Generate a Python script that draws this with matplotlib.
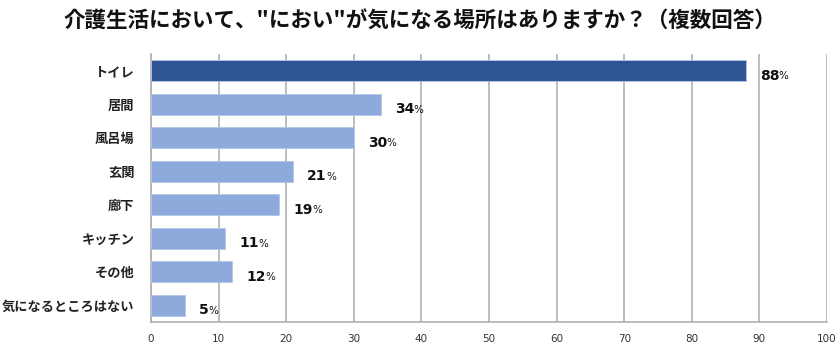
import matplotlib
matplotlib.use("Agg")
import matplotlib.pyplot as plt

plt.rcParams['font.family'] = ['Noto Sans CJK JP', 'DejaVu Sans']

# survey data: where odours are noticed in home care
places = ["トイレ", "居間", "風呂場", "玄関", "廊下", "キッチン", "その他", "気になるところはない"]
percent = [88, 34, 30, 21, 19, 11, 12, 5]
bar_colors = ["#2F5597", "#8EA9DB", "#8EA9DB", "#8EA9DB", "#8EA9DB", "#8EA9DB", "#8EA9DB", "#8EA9DB"]
x_ticks = [0, 10, 20, 30, 40, 50, 60, 70, 80, 90, 100]
title = '介護生活において、"におい"が気になる場所はありますか？（複数回答）'

fig = plt.figure(figsize=(8.4, 3.46), dpi=100)
ax = fig.add_axes([0.1798, 0.0694, 0.8047, 0.7745])

ypos = list(range(len(places)))
ax.barh(ypos, percent, height=0.62, color=bar_colors, edgecolor="#B4C7E7", linewidth=0.6, zorder=3)

ax.set_xlim(0, 100)
ax.set_ylim(len(places) - 0.5, -0.5)
ax.set_xticks(x_ticks)
ax.set_xticklabels([str(t) for t in x_ticks], family="DejaVu Sans")
ax.set_yticks(ypos)
ax.set_yticklabels(places, fontsize=9.5, fontweight="bold", color="#222222")
ax.tick_params(axis="y", length=0, pad=12)
ax.tick_params(axis="x", length=0, pad=9, labelsize=7.5, labelcolor="#333333")
ax.grid(axis="x", color="#ABABAB", linewidth=1.1, zorder=0)

for side in ["top", "right"]:
    ax.spines[side].set_visible(False)
for side in ["left", "bottom"]:
    ax.spines[side].set_color("#ABABAB")
    ax.spines[side].set_linewidth(1.1)

# value labels: bold number followed by a smaller percent sign
for y, v in zip(ypos, percent):
    num = ax.text(v + 2.1, y + 0.15, str(v), fontsize=10, fontweight="bold", family="DejaVu Sans",
                  color="#111111", va="center", ha="left", zorder=4)
    ax.annotate("%", xy=(1, 0.12), xycoords=num, xytext=(-0.5, 0), textcoords="offset points",
                fontsize=7.5, family="DejaVu Sans", color="#111111",
                va="bottom", ha="left", zorder=4)

fig.text(0.5, 0.94, title, ha="center", va="center", fontsize=15.5, fontweight="bold", color="#111111")

fig.savefig("out.png", dpi=100)
